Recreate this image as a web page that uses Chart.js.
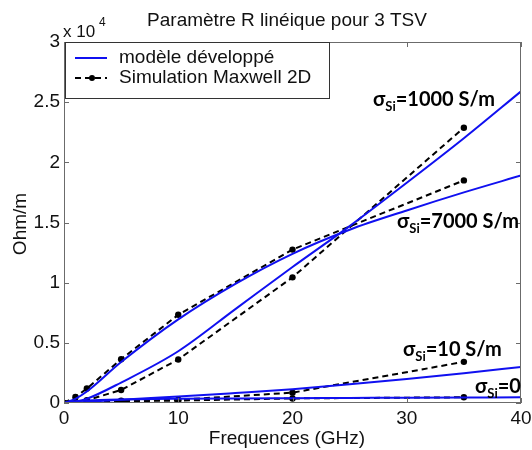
<!DOCTYPE html>
<html>
<head>
<meta charset="utf-8">
<script src="https://cdn.jsdelivr.net/npm/chart.js@4"></script>
<style>
  html, body { margin: 0; padding: 0; background: #fff; }
  #wrap { width: 532px; height: 450px; position: relative; }
</style>
</head>
<body>
<div id="wrap"><canvas id="c"></canvas></div>
<script>
// Fréquences (GHz) et valeurs en Ohm/m
const freqModel  = [0, 1, 2, 5, 10, 15, 20, 25, 30, 35, 40];
const model1000  = [0, 100, 350, 1700, 4300, 7800, 11300, 14700, 18300, 22000, 25900];
const model7000  = [0, 350, 950, 3400, 6950, 9900, 12400, 14400, 16000, 17500, 18900];
const model10    = [0, 40, 90, 280, 530, 830, 1150, 1550, 2000, 2480, 3000];
const model0     = [0, 150, 210, 290, 350, 380, 400, 420, 440, 455, 470];

const freqSim    = [0, 1, 2, 5, 10, 20, 35];
const sim1000    = [0, 100, 230, 1080, 3620, 10440, 22880];
const sim7000    = [0, 500, 1200, 3640, 7330, 12750, 18500];
const sim10      = [0, 50, 100, 190, 270, 860, 3420];
const sim0       = [0, 50, 90, 150, 200, 380, 475];

const xTicks = [0, 10, 20, 30, 40];
const yTicks = [0, 5000, 10000, 15000, 20000, 25000, 30000];

const BLUE = "#1010f0";
const AXIS = "#6b6b6b";
const FONT = "'Liberation Sans', Arial, sans-serif";

const pts = (xs, ys) => xs.map((x, i) => ({ x, y: ys[i] }));

function modelDs(ys) {
  return {
    label: "modèle développé",
    data: pts(freqModel, ys),
    borderColor: BLUE,
    backgroundColor: BLUE,
    borderWidth: 2,
    pointRadius: 0,
    showLine: true,
    cubicInterpolationMode: "monotone",
  };
}
function simDs(ys) {
  return {
    label: "Simulation Maxwell 2D",
    data: pts(freqSim, ys),
    borderColor: "#000",
    backgroundColor: "#000",
    borderWidth: 2,
    borderDash: [6, 4],
    pointRadius: 3.2,
    pointBorderWidth: 0,
    showLine: true,
    tension: 0,
  };
}

// cadre, graduations intérieures, légende, titre et annotations
const decorPlugin = {
  id: "decor",
  afterDraw(chart) {
    const ctx = chart.ctx;
    const { left, right, top, bottom } = chart.chartArea;
    const xs = chart.scales.x, ys = chart.scales.y;
    ctx.save();

    // cadre
    ctx.strokeStyle = AXIS;
    ctx.lineWidth = 1;
    ctx.strokeRect(left + 0.5, top + 0.5, right - left - 1, bottom - top - 1);

    // graduations vers l'intérieur
    const tl = 5;
    ctx.beginPath();
    xTicks.forEach(v => {
      const px = Math.round(xs.getPixelForValue(v)) + 0.5;
      ctx.moveTo(px, bottom); ctx.lineTo(px, bottom - tl);
      ctx.moveTo(px, top);    ctx.lineTo(px, top + tl);
    });
    yTicks.forEach(v => {
      const py = Math.round(ys.getPixelForValue(v)) + 0.5;
      ctx.moveTo(left, py);  ctx.lineTo(left + tl, py);
      ctx.moveTo(right, py); ctx.lineTo(right - tl, py);
    });
    ctx.stroke();

    // titre
    ctx.fillStyle = "#111";
    ctx.textBaseline = "middle";
    ctx.textAlign = "center";
    ctx.font = `19px ${FONT}`;
    ctx.fillText("Paramètre R linéique pour 3 TSV", 287, 21);

    // x 10^4
    ctx.textAlign = "left";
    ctx.font = `17px ${FONT}`;
    ctx.fillText("x 10", 63, 32);
    ctx.font = `12px ${FONT}`;
    ctx.fillText("4", 99, 23);

    // titres des axes
    ctx.textAlign = "center";
    ctx.font = `19px ${FONT}`;
    ctx.fillText("Frequences (GHz)", 287, 439);
    ctx.save();
    ctx.translate(21, 224);
    ctx.rotate(-Math.PI / 2);
    ctx.fillText("Ohm/m", 0, 0);
    ctx.restore();

    // légende
    const lx = 65, ly = 42, lw = 264, lh = 56;
    ctx.fillStyle = "#fff";
    ctx.fillRect(lx, ly, lw, lh);
    ctx.strokeStyle = "#333";
    ctx.lineWidth = 1;
    ctx.strokeRect(lx + 0.5, ly + 0.5, lw, lh);
    const m = chart.data.datasets[0], s = chart.data.datasets[4];
    ctx.lineWidth = 2;
    ctx.strokeStyle = m.borderColor;
    ctx.beginPath(); ctx.moveTo(75, 58); ctx.lineTo(107, 58); ctx.stroke();
    ctx.strokeStyle = s.borderColor;
    ctx.setLineDash(s.borderDash);
    ctx.beginPath(); ctx.moveTo(75, 78); ctx.lineTo(107, 78); ctx.stroke();
    ctx.setLineDash([]);
    ctx.fillStyle = "#000";
    ctx.beginPath(); ctx.arc(92, 78, 3, 0, Math.PI * 2); ctx.fill();
    ctx.fillStyle = "#111";
    ctx.textAlign = "left";
    ctx.font = `19px ${FONT}`;
    ctx.fillText(m.label, 119, 58);
    ctx.fillText(s.label, 119, 78);

    // annotations sigma_Si
    const sigma = (x, y, rest) => {
      ctx.fillStyle = "#000";
      ctx.textAlign = "left";
      ctx.font = `bold 20px Lato, ${FONT}`;
      ctx.fillText("σ", x, y);
      let w = ctx.measureText("σ").width;
      ctx.font = `bold 13px Lato, ${FONT}`;
      ctx.fillText("Si", x + w, y + 7);
      w += ctx.measureText("Si").width;
      ctx.font = `bold 20px Lato, ${FONT}`;
      ctx.fillText(rest, x + w, y);
    };
    sigma(373, 100, "=1000 S/m");
    sigma(397, 222, "=7000 S/m");
    sigma(403, 350, "=10 S/m");
    sigma(475, 387, "=0");

    ctx.restore();
  },
};

new Chart(document.getElementById("c"), {
  type: "scatter",
  data: {
    datasets: [
      modelDs(model1000), modelDs(model7000), modelDs(model10), modelDs(model0),
      simDs(sim1000), simDs(sim7000), simDs(sim10), simDs(sim0),
    ],
  },
  options: {
    responsive: true,
    maintainAspectRatio: false,
    animation: false,
    layout: { padding: { top: 42, right: 11, left: 0, bottom: 0 } },
    plugins: {
      legend: { display: false },
      title: { display: false },
      tooltip: { enabled: false },
    },
    scales: {
      x: {
        type: "linear",
        min: 0, max: 40,
        afterFit: (sc) => { sc.height = 47; sc.paddingLeft = 0; sc.paddingRight = 0; },
        afterBuildTicks: (sc) => { sc.ticks = xTicks.map(v => ({ value: v })); },
        ticks: { color: "#111", font: { size: 19, family: FONT }, padding: 4, maxRotation: 0 },
        grid: { display: false, drawTicks: false },
        border: { display: false },
      },
      y: {
        type: "linear",
        min: 0, max: 30000,
        afterFit: (sc) => { sc.width = 64; sc.paddingTop = 0; sc.paddingBottom = 0; },
        afterBuildTicks: (sc) => { sc.ticks = yTicks.map(v => ({ value: v })); },
        ticks: {
          color: "#111", font: { size: 19, family: FONT }, padding: 4,
          callback: (v) => String(v / 10000),
        },
        grid: { display: false, drawTicks: false },
        border: { display: false },
      },
    },
  },
  plugins: [decorPlugin],
});
</script>
</body>
</html>
